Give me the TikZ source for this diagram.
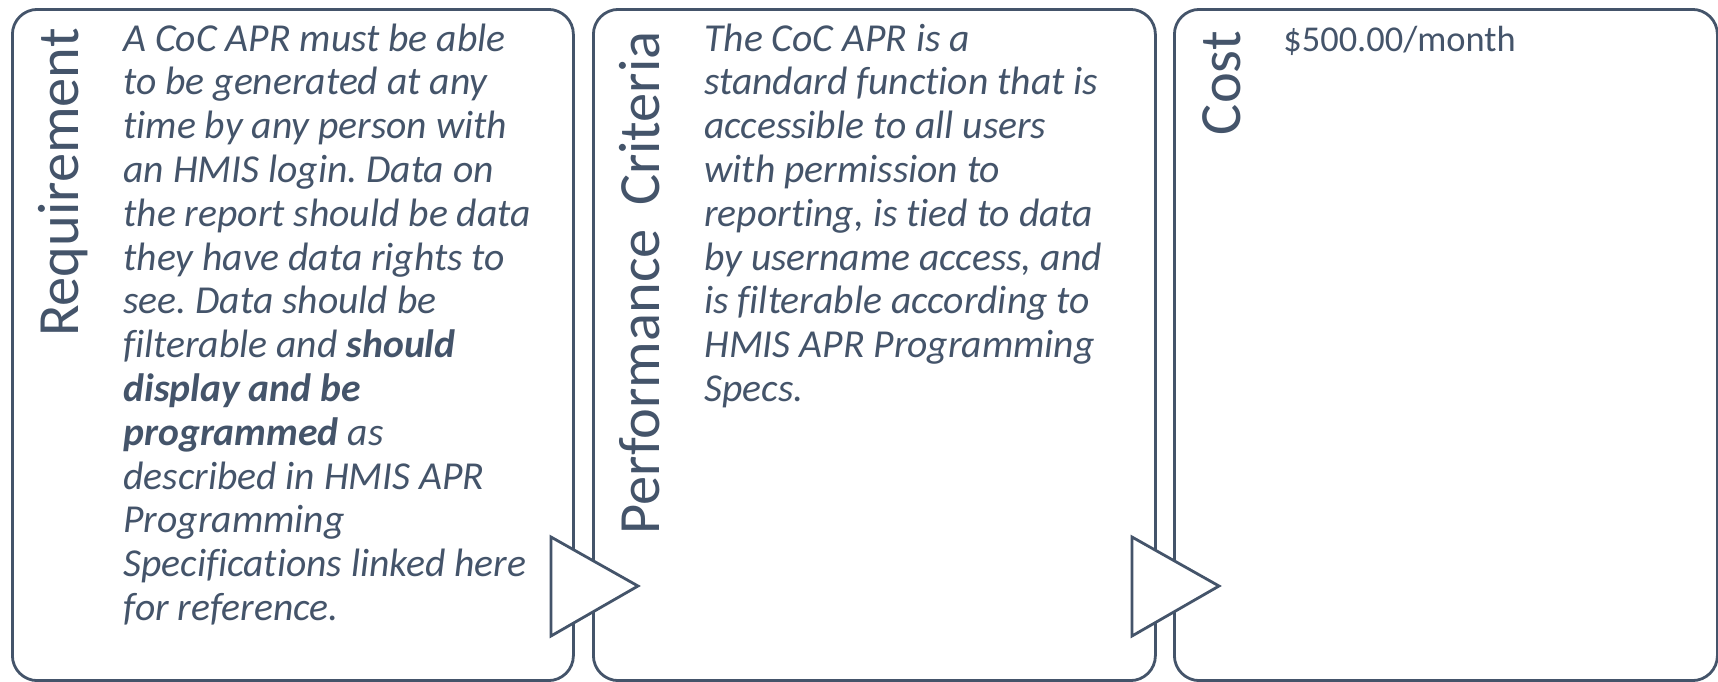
\documentclass[tikz,border=0pt]{standalone}
\usepackage{fontspec}
\setmainfont{Carlito}[Ligatures=NoCommon]
\definecolor{slate}{HTML}{44546A}
\tikzset{
  panel/.style={draw=slate, line width=1.4pt, rounded corners=12.5pt, fill=white, anchor=north west, inner sep=0pt},
  vlabel/.style={rotate=90, anchor=base east, inner sep=0pt, text=slate, font=\fontsize{29.2pt}{35pt}\selectfont},
  body/.style={anchor=base west, inner sep=0pt, text=slate},
  chevron/.style={draw=slate, line width=1.4pt, fill=white, line join=miter}
}
\newcommand{\bodytext}[3]{\parbox[t]{#1}{\frenchspacing\fontsize{#2}{21.9pt}\selectfont\raggedright #3}}
\begin{document}
\begin{tikzpicture}[x=0.5pt,y=-0.5pt]
\useasboundingbox (0,0) rectangle (1718,681);
% panels
\node[panel, minimum width=280.5pt, minimum height=335.6pt] (p1) at (11,8) {};
\node[panel, minimum width=281pt, minimum height=335.6pt] (p2) at (592,8) {};
\node[panel, minimum width=271.5pt, minimum height=335.6pt] (p3) at (1173,8) {};
% chevrons
\draw[chevron] (551,537) -- (638,586) -- (551,636) -- cycle;
\draw[chevron] (1132,537) -- (1219,586) -- (1132,636) -- cycle;
% vertical labels
\node[vlabel] (l1) at (78,28) {Requirement};
\node[vlabel] (l2) at (659,31) {Performance\hspace{5pt} Criteria};
\node[vlabel] (l3) at (1240,31) {Cost};
% body texts
\node[body] (t1) at (123,51) {\bodytext{240pt}{19.8pt}{\itshape
A CoC APR must be able\\
to be generated at any\\
time by any person with\\
an HMIS login. Data on\\
the report should be data\\
they have data rights to\\
see. Data should be\\
filterable and \textbf{should}\\
\textbf{display and be}\\
\textbf{programmed} as\\
described in HMIS APR\\
Programming\\
Specifications linked here\\
for reference.}};
\node[body] (t2) at (704,51) {\bodytext{240pt}{19.8pt}{\itshape
The CoC APR is a\\
standard function that is\\
accessible to all users\\
with permission to\\
reporting, is tied to data\\
by username access, and\\
is filterable according to\\
HMIS APR Programming\\
Specs.}};
\node[body] (t3) at (1283,51) {\bodytext{200pt}{18.2pt}{\$500.00/month}};
\end{tikzpicture}
\end{document}
